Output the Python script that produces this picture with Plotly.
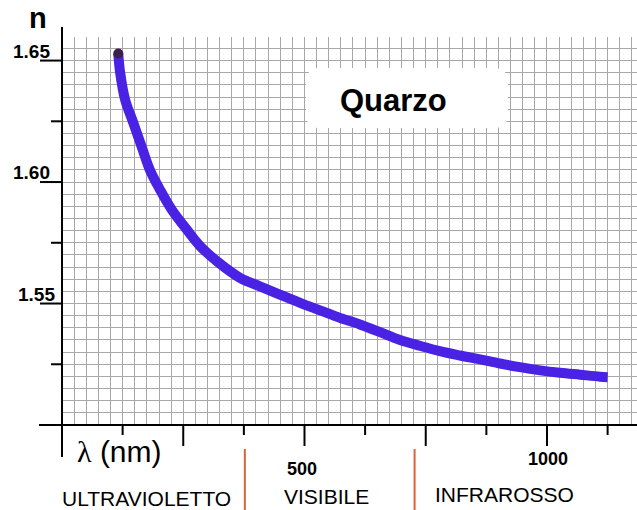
import plotly.graph_objects as go

# ---- data ----
wavelength_nm = [116, 120, 130, 147, 164, 181, 202, 226, 257, 285, 322, 367, 408, 449,
                 491, 532, 573, 614, 656, 697, 738, 779, 821, 862, 903, 944, 986, 1027,
                 1068, 1109, 1125]
refractive_index = [1.6529, 1.6449, 1.6340, 1.6244, 1.6147, 1.6051, 1.5969, 1.5887, 1.5805,
                    1.5736, 1.5670, 1.5606, 1.5571, 1.5537, 1.5503, 1.5472, 1.5441, 1.5414,
                    1.5382, 1.5350, 1.5326, 1.5304, 1.5286, 1.5270, 1.5253, 1.5238, 1.5225,
                    1.5215, 1.5207, 1.5199, 1.5197]

y_major_ticks = [1.65, 1.60, 1.55]
y_major_labels = ["1.65", "1.60", "1.55"]
y_minor_ticks = [1.625, 1.575, 1.525]
x_major_ticks = [0, 250, 500, 750, 1000]
x_minor_ticks = [125, 375, 625, 875, 1125]
x_labels = {500: "500", 1000: "1000"}
region_bounds = [377, 727]
region_names = ["ULTRAVIOLETTO", "VISIBILE", "INFRAROSSO"]

X_RANGE = [0, 1185.6]
Y_RANGE = [1.50, 1.6597]

W, H = 637, 510
ML, MR, MT, MB = 62, 0, 37, 85
PW, PH = W - ML - MR, H - MT - MB


def xp(v):  # data -> paper
    return (v - X_RANGE[0]) / (X_RANGE[1] - X_RANGE[0])


def yp(v):
    return (v - Y_RANGE[0]) / (Y_RANGE[1] - Y_RANGE[0])


def pxx(px):  # pixel -> paper
    return (px - ML) / PW


def pxy(py):
    return (H - MB - py) / PH


fig = go.Figure()
fig.add_trace(go.Scatter(
    x=wavelength_nm, y=refractive_index, mode="lines",
    line=dict(color="#4a22e4", width=10, shape="spline", smoothing=1.0),
    hoverinfo="skip"))
fig.add_trace(go.Scatter(
    x=wavelength_nm[:1], y=refractive_index[:1], mode="markers",
    marker=dict(color="#3b1f4e", size=10), hoverinfo="skip"))

shapes = []
black = dict(color="black", width=2)
# rounded white box for title
x0, x1, y0, y1 = pxx(306), pxx(508), pxy(128), pxy(68)
rx, ry = 14 / PW, 14 / PH
path = (f"M {x0+rx},{y0} L {x1-rx},{y0} Q {x1},{y0} {x1},{y0+ry} L {x1},{y1-ry} "
        f"Q {x1},{y1} {x1-rx},{y1} L {x0+rx},{y1} Q {x0},{y1} {x0},{y1-ry} "
        f"L {x0},{y0+ry} Q {x0},{y0} {x0+rx},{y0} Z")
shapes.append(dict(type="path", xref="paper", yref="paper", path=path,
                   fillcolor="white", line=dict(color="white", width=0), layer="above"))
# axes lines
shapes.append(dict(type="line", xref="paper", yref="paper", x0=0, x1=0,
                   y0=pxy(457), y1=pxy(27), line=black))
shapes.append(dict(type="line", xref="paper", yref="paper", x0=pxx(39), x1=1,
                   y0=0, y1=0, line=black))
for t in x_major_ticks[1:]:
    shapes.append(dict(type="line", xref="paper", yref="paper", x0=xp(t), x1=xp(t),
                       y0=0, y1=-21 / PH, line=black))
for t in x_minor_ticks:
    shapes.append(dict(type="line", xref="paper", yref="paper", x0=xp(t), x1=xp(t),
                       y0=0, y1=-10 / PH, line=black))
for t in y_major_ticks:
    shapes.append(dict(type="line", xref="paper", yref="paper", x0=-22 / PW, x1=0,
                       y0=yp(t), y1=yp(t), line=black))
for t in y_minor_ticks:
    shapes.append(dict(type="line", xref="paper", yref="paper", x0=-11 / PW, x1=0,
                       y0=yp(t), y1=yp(t), line=black))
# region separators
for b in region_bounds:
    shapes.append(dict(type="line", xref="paper", yref="paper", x0=xp(b), x1=xp(b),
                       y0=pxy(449), y1=pxy(512), line=dict(color="#e0603a", width=2)))

ann = []
font_b = "Liberation Sans"


def add_text(text, x, y, size, bold=False, color="black"):
    ann.append(dict(text=f"<b>{text}</b>" if bold else text, xref="paper", yref="paper",
                    x=pxx(x), y=pxy(y), xanchor="center", yanchor="middle",
                    showarrow=False, font=dict(family=font_b, size=size, color=color)))


add_text("n", 38, 18, 29, bold=True)
label_offsets = [(31, -9), (31, -10), (36, -9)]
for t, lab, (lx, dy) in zip(y_major_ticks, y_major_labels, label_offsets):
    ty = H - MB - yp(t) * PH
    add_text(lab, lx, ty + dy, 19, bold=True)
add_text("<span style='font-family:Liberation Serif'>λ</span> (nm)", 119, 451, 30)
add_text(x_labels[500], 302, 469, 18, bold=True)
add_text(x_labels[1000], 548, 459, 18, bold=True)
add_text(region_names[0], 146, 498, 21)
add_text(region_names[1], 326, 496, 21)
add_text(region_names[2], 504, 494, 21)
add_text("Quarzo", 393, 101, 31, bold=True)

fig.update_layout(
    width=W, height=H,
    margin=dict(l=ML, r=MR, t=MT, b=MB, pad=0),
    paper_bgcolor="white", plot_bgcolor="white",
    showlegend=False,
    shapes=shapes, annotations=ann,
    xaxis=dict(range=X_RANGE, dtick=25, tick0=0, showgrid=True, gridcolor="#a8a8a8",
               gridwidth=1, showticklabels=False, ticks="", zeroline=False, showline=False,
               fixedrange=True),
    yaxis=dict(range=Y_RANGE, dtick=0.005, tick0=1.5, showgrid=True, gridcolor="#a8a8a8",
               gridwidth=1, showticklabels=False, ticks="", zeroline=False, showline=False,
               fixedrange=True),
)
fig.write_html("out.html", config={"displayModeBar": False},
               post_script="document.body.style.margin='0';document.body.style.overflow='hidden';")
